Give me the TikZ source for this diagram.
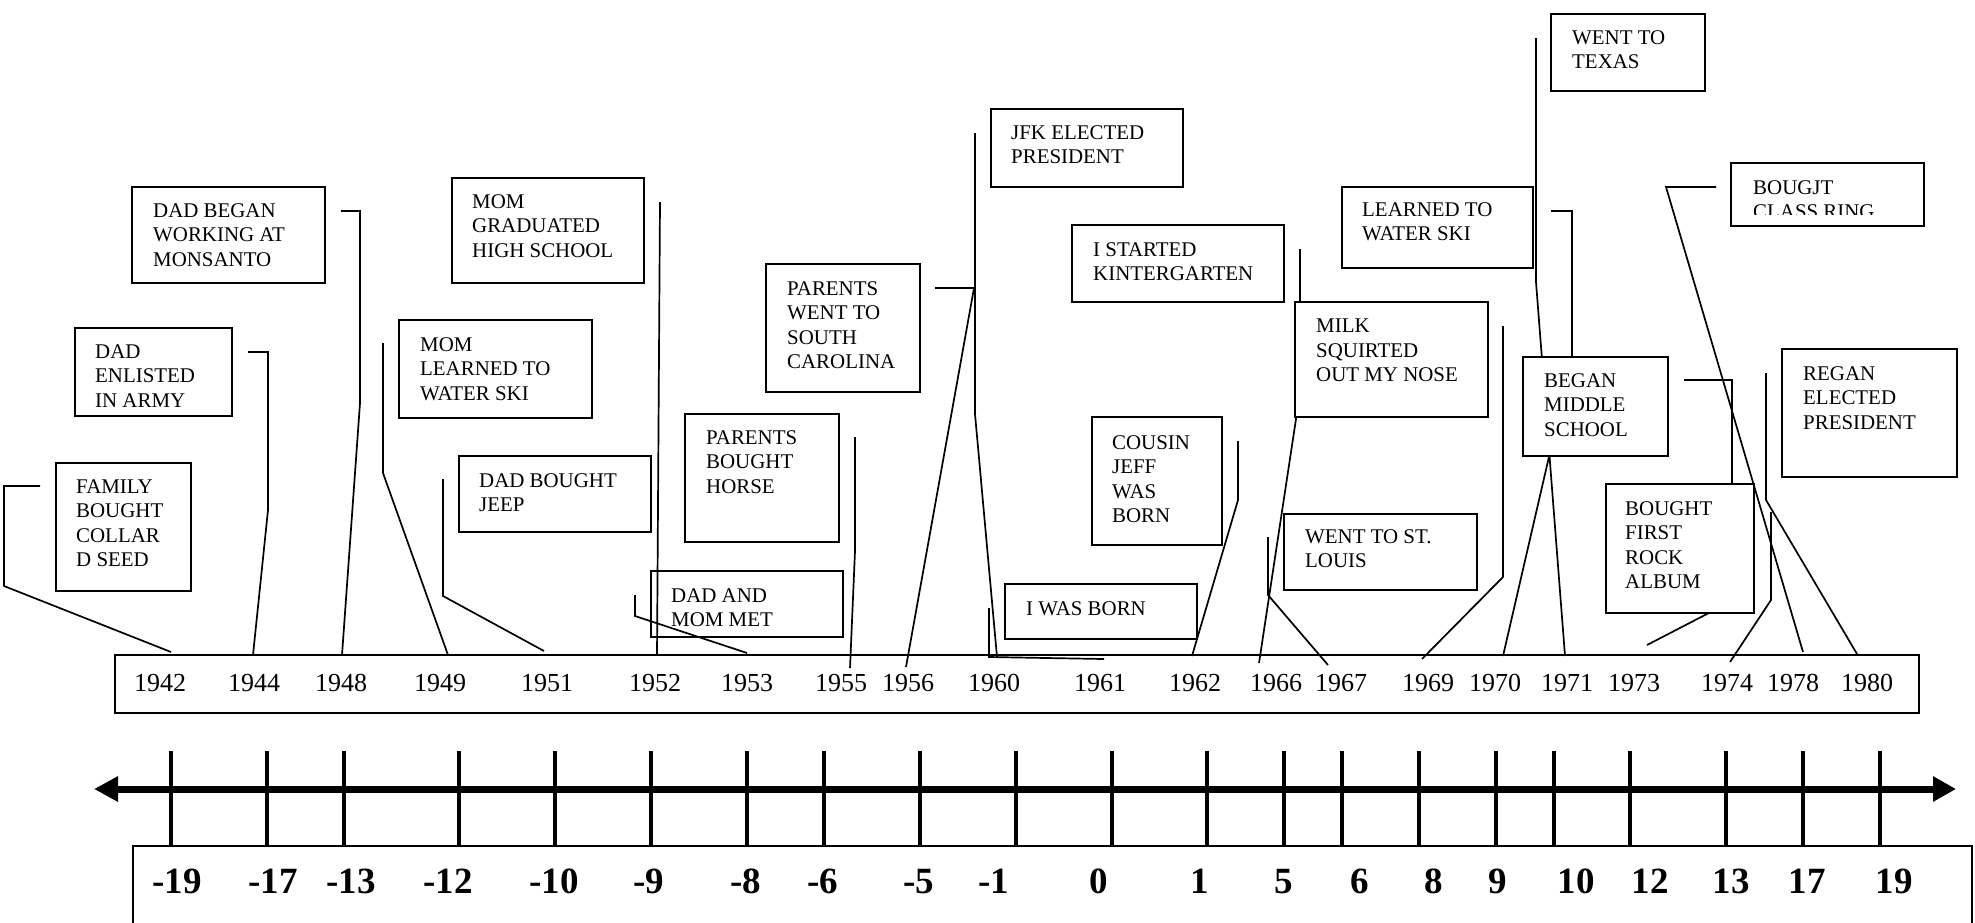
\documentclass[tikz,border=0pt]{standalone}
\usepackage{fontspec}
\setmainfont{Liberation Serif}
\usetikzlibrary{arrows.meta}
\newcommand\eventbox[8]{%
  \node[evbox, minimum width={#4-#2}, minimum height={#5-#3}] (#1) at (#2,#3) {};
  \node[evtext] (#1t) at (#6,#7) {#8};}
\begin{document}
\begin{tikzpicture}[x=1pt,y=-1pt,
  evbox/.style={draw, fill=white, line width=1.8pt, anchor=north west, inner sep=0pt, outer sep=0pt},
  evtext/.style={anchor=north west, inner sep=0pt, align=left, font=\fontsize{20.9}{24.5}\selectfont},
  conn/.style={line width=1.7pt, line join=miter},
  yr/.style={anchor=base, inner sep=0pt, font=\fontsize{26}{30}\selectfont},
  num/.style={anchor=base, inner sep=0pt, font=\bfseries\fontsize{37}{40}\selectfont},
  tickmark/.style={line width=4.5pt},
]
\useasboundingbox (0,0) rectangle (1975,922);

% ---------- year strip ----------
\node[draw, line width=1.7pt, anchor=north west, minimum width=1804, minimum height=58, inner sep=0pt] (yearbox) at (114,654) {};
\foreach \x/\y in {160/1942,254/1944,341/1948,440/1949,547/1951,655/1952,747/1953,841/1955,908/1956,994/1960,1100/1961,1195/1962,1276/1966,1341/1967,1428/1969,1495/1970,1567/1971,1634/1973,1727/1974,1793/1978,1867/1980}
  \node[yr] (y\y) at (\x,691) {\y};

% ---------- connector end points ----------
\coordinate (s1) at (40,486);   \coordinate (e1) at (171,652);
\coordinate (s2) at (248,352);  \coordinate (e2) at (253,655);
\coordinate (s3) at (341,211);  \coordinate (e3) at (342,655);
\coordinate (s4) at (383,343);  \coordinate (e4) at (448,655);
\coordinate (s5) at (443,479);  \coordinate (e5) at (544,651);
\coordinate (s6) at (660,202);  \coordinate (e6) at (657,655);
\coordinate (s7) at (635,595);  \coordinate (e7) at (747,653);
\coordinate (s8) at (855,437);  \coordinate (e8) at (850,668);
\coordinate (s9) at (935,288);  \coordinate (e9) at (906,667);
\coordinate (s10) at (975,133); \coordinate (e10) at (997,657);
\coordinate (s11) at (989,608); \coordinate (e11) at (1104,659);
\coordinate (s12) at (1238,441); \coordinate (e12) at (1192,656);
\coordinate (s13) at (1300,249); \coordinate (e13) at (1259,663);
\coordinate (s14) at (1268,537); \coordinate (e14) at (1328,665);
\coordinate (s15) at (1503,326); \coordinate (e15) at (1422,659);
\coordinate (s16) at (1551,211); \coordinate (e16) at (1503,656);
\coordinate (s17) at (1536,38);  \coordinate (e17) at (1565,656);
\coordinate (s18) at (1684,380); \coordinate (e18) at (1647,645);
\coordinate (s19) at (1771,512); \coordinate (e19) at (1730,662);
\coordinate (s20) at (1716,187); \coordinate (e20) at (1803,652);
\coordinate (s21) at (1766,373); \coordinate (e21) at (1857,654);

% ---------- connectors hidden behind boxes ----------
\draw[conn] (s13) -- (1300,302) -- (1296,419) -- (e13);
\draw[conn] (s16) -- (1572,211) -- (1572,357) -- (e16);
\draw[conn] (s17) -- (1536,282) -- (e17);
\draw[conn] (s18) -- (1732,380) -- (1732,601) -- (e18);

% ---------- event boxes ----------
\eventbox{b1}{56}{463}{191}{591}{76}{479}{FAMILY\\BOUGHT\\COLLAR\\D SEED}
\eventbox{b2}{75}{328}{232}{416}{95}{344}{DAD\\ENLISTED\\IN ARMY}
\eventbox{b3}{132}{187}{325}{283}{153}{203}{DAD BEGAN\\WORKING AT\\MONSANTO}
\eventbox{b4}{452}{178}{644}{283}{472}{194}{MOM\\GRADUATED\\HIGH SCHOOL}
\eventbox{b5}{399}{320}{592}{418}{420}{337}{MOM\\LEARNED TO\\WATER SKI}
\eventbox{b6}{459}{456}{651}{532}{479}{473}{DAD BOUGHT\\JEEP}
\eventbox{b7}{766}{264}{920}{392}{787}{281}{PARENTS\\WENT TO\\SOUTH\\CAROLINA}
\eventbox{b8}{685}{414}{839}{542}{706}{430}{PARENTS\\BOUGHT\\HORSE}
\eventbox{b9}{651}{571}{843}{637}{671}{588}{DAD AND\\MOM MET}
\eventbox{b10}{991}{109}{1183}{187}{1011}{125}{JFK ELECTED\\PRESIDENT}
\eventbox{b11}{1072}{225}{1284}{302}{1093}{242}{I STARTED\\KINTERGARTEN}
\eventbox{b12}{1092}{417}{1222}{545}{1112}{435}{COUSIN\\JEFF\\WAS\\BORN}
\eventbox{b13}{1005}{584}{1197}{639}{1026}{601}{I WAS BORN}
\eventbox{b14}{1295}{302}{1488}{417}{1316}{319}{MILK\\SQUIRTED\\OUT MY NOSE}
\eventbox{b15}{1284}{514}{1477}{590}{1305}{529}{WENT TO ST.\\LOUIS}
\eventbox{b16}{1342}{187}{1533}{268}{1362}{202}{LEARNED TO\\WATER SKI}
\eventbox{b17}{1551}{14}{1705}{91}{1572}{30}{WENT TO\\TEXAS}
\eventbox{b18}{1523}{357}{1668}{456}{1544}{373}{BEGAN\\MIDDLE\\SCHOOL}
\eventbox{b19}{1606}{484}{1754}{613}{1625}{501}{BOUGHT\\FIRST\\ROCK\\ALBUM}
\node[evbox, minimum width=193, minimum height=63] (b20) at (1731,163) {};
\begin{scope}
  \clip (1733,165) rectangle (1922,214.5);
  \node[evtext] (b20t) at (1753,180) {BOUGJT\\CLASS RING};
\end{scope}
\eventbox{b21}{1782}{349}{1957}{477}{1803}{366}{REGAN\\ELECTED\\PRESIDENT}

% ---------- visible connectors ----------
\draw[conn] (s1) -- (4,486) -- (4,586) -- (e1);
\draw[conn] (s2) -- (268,352) -- (268,510) -- (e2);
\draw[conn] (s3) -- (360,211) -- (360,403) -- (e3);
\draw[conn] (s4) -- (383,473) -- (e4);
\draw[conn] (s5) -- (443,596) -- (e5);
\draw[conn] (s6) -- (e6);
\draw[conn] (s7) -- (635,616) -- (e7);
\draw[conn] (s8) -- (855,551) -- (e8);
\draw[conn] (s9) -- (974,288) -- (e9);
\draw[conn] (s10) -- (975,414) -- (e10);
\draw[conn] (s11) -- (989,657) -- (e11);
\draw[conn] (s12) -- (1238,500) -- (e12);
\draw[conn] (s14) -- (1268,595) -- (e14);
\draw[conn] (s15) -- (1503,577) -- (e15);
\draw[conn] (s19) -- (1771,600) -- (e19);
\draw[conn] (s20) -- (1666,187) -- (e20);
\draw[conn] (s21) -- (1766,500) -- (e21);

% ---------- number line ----------
\coordinate (al) at (94,789);
\coordinate (ar) at (1956,789);
\foreach \x in {171,267,344,459,555,651,747,824,920,1016,1112,1207,1284,1342,1419,1496,1554,1630,1726,1803,1880}
  \draw[tickmark] (\x,751) -- (\x,846);
\draw[line width=7pt, {Triangle[length=24pt,width=24pt]}-{Triangle[length=23pt,width=24pt]}] (al) -- (ar);
\draw[line width=1.8pt] (133,925) -- (133,846) -- (1972,846) -- (1972,925);
\foreach \x/\n/\t in {177/a/-19,273/b/-17,351/c/-13,448/d/-12,554/e/-10,649/f/-9,746/g/-8,823/h/-6,919/i/-5,994/j/-1,1099/k/0,1200/l/1,1284/m/5,1360/n/6,1434/o/8,1498/p/9,1576/q/10,1650/r/12,1731/s/13,1807/t/17,1894/u/19}
  \node[num] (n\n) at (\x,893) {\t};
\end{tikzpicture}
\end{document}
